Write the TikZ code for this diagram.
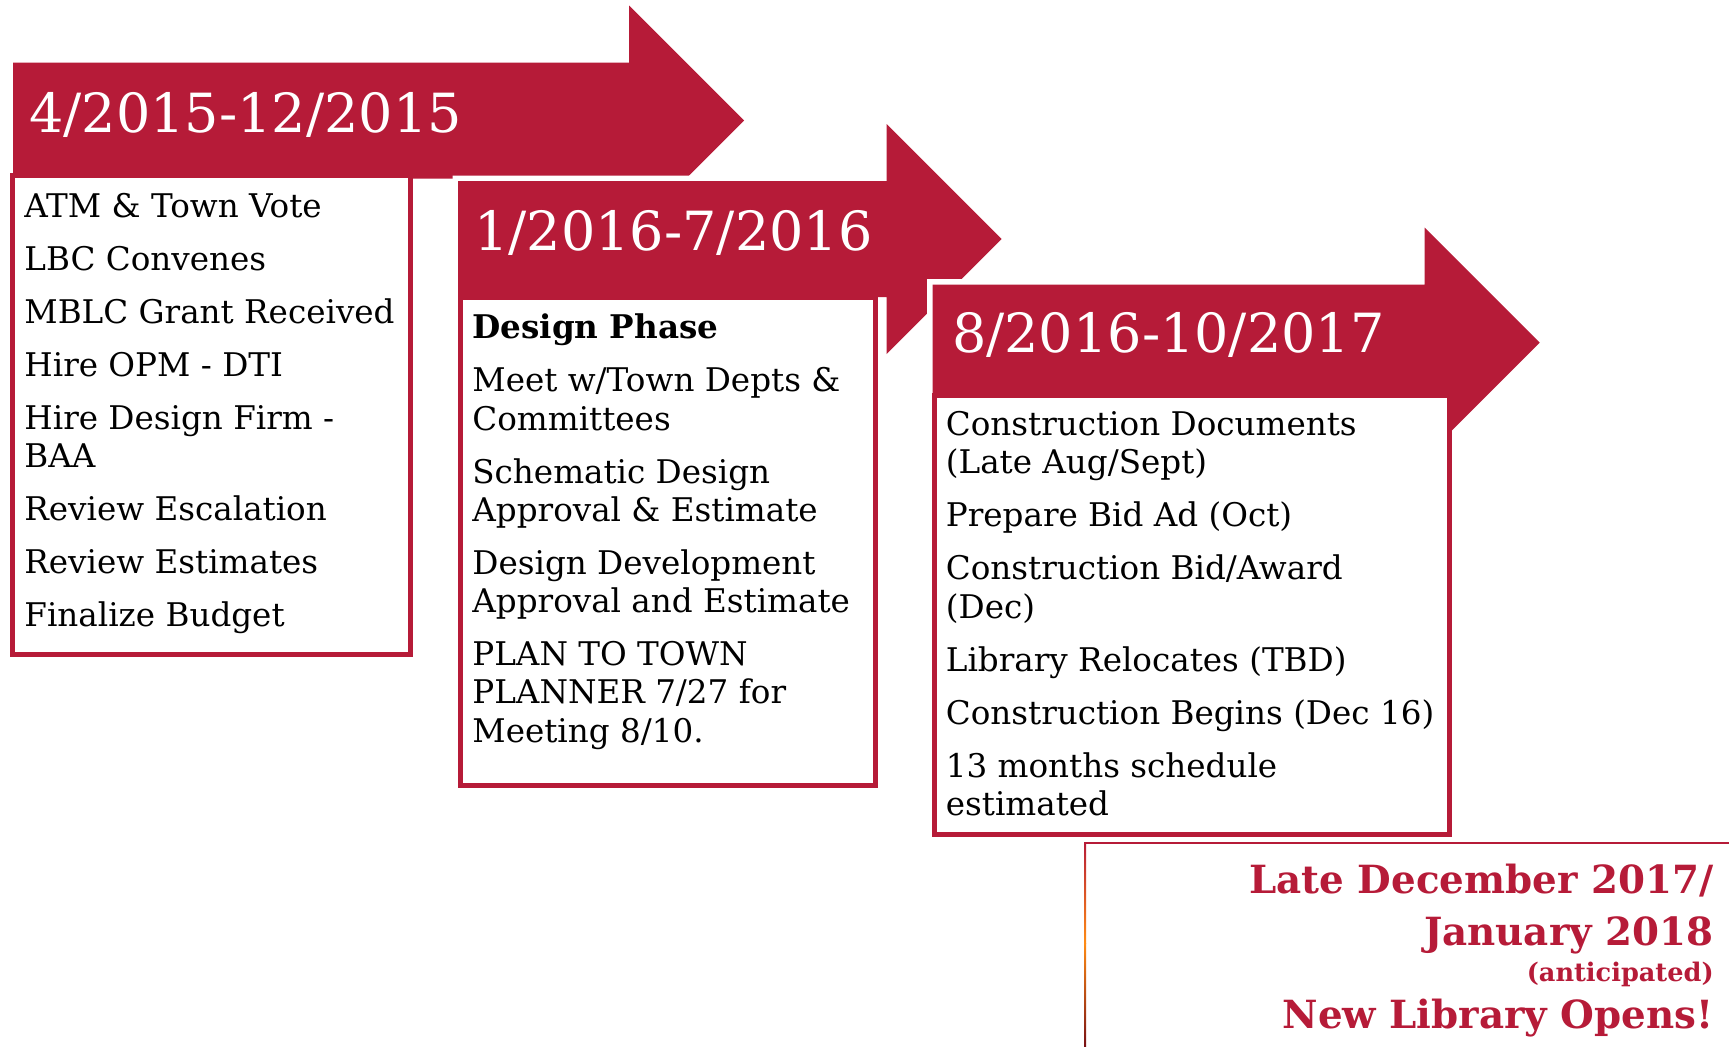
\documentclass[tikz,border=0pt]{standalone}
\usepackage{fontspec}
\setmainfont{DejaVu Serif}
\definecolor{crimson}{RGB}{182,27,56}
\definecolor{flame}{RGB}{255,140,20}
\definecolor{ember}{RGB}{120,16,20}

\begin{document}
\begin{tikzpicture}[x=0.5pt, y=-0.5pt,
    phasearrow/.style={fill=crimson, preaction={draw=white, line width=5.5pt}},
    phasebox/.style={draw=crimson, line width=2.5pt, fill=white},
    datelabel/.style={text=white, inner sep=0pt, anchor=base west, font=\fontsize{27}{32}\selectfont},
    tasklist/.style={align=left, inner sep=0pt, anchor=north west, font=\fontsize{16.3}{19.15}\selectfont},
    milestone/.style={text=crimson, inner sep=0pt, anchor=base east, font=\bfseries\fontsize{19.4}{23}\selectfont}]
  % ==== Parameters ====
  \def\BODY{58}    % half height of an arrow shaft
  \def\HEAD{115}   % half height (and length) of an arrow head
  \def\GAP{7.35pt} % extra space between two tasks
  \def\TOP{26.8}   % strut height above the first baseline

  \useasboundingbox (0,0) rectangle (1729,1046);

  % Arrows and their boxes: shaft left, head start, centre line / box corners
  \foreach \l/\n/\c/\bl/\bt/\br/\bb in {13/629/120.5/12.5/175.5/410.5/654.5,
      458/886.7/239/460.5/297.5/875.5/785.5,
      932.7/1424.7/342.7/934.5/395.5/1449.5/834.5}{
      \fill[phasearrow] (\l,\c-\BODY) -- (\n,\c-\BODY) -- (\n,\c-\HEAD) -- (\n+\HEAD,\c)
        -- (\n,\c+\HEAD) -- (\n,\c+\BODY) -- (\l,\c+\BODY) -- cycle;
      \draw[phasebox] (\bl,\bt) rectangle (\br,\bb);
    }

  % Date ranges
  \node[datelabel] (d1) at (29,132) {4/2015-12/2015};
  \node[datelabel] (d2) at (474,250) {1/2016-7/2016};
  \node[datelabel] (d3) at (951.7,352) {8/2016-10/2017};

  % Tasks
  \node[tasklist] (t1) at (24,216.7-\TOP) {\strut ATM \& Town Vote\\[\GAP]
    LBC Convenes\\[\GAP] MBLC Grant Received\\[\GAP] Hire OPM - DTI\\[\GAP]
    Hire Design Firm -\\ BAA\\[\GAP] Review Escalation\\[\GAP]
    Review Estimates\\[\GAP] Finalize Budget};
  \node[tasklist] (t2) at (472,338.3-\TOP) {\strut\textbf{Design Phase}\\[\GAP]
    Meet w/Town Depts \&\\ Committees\\[\GAP] Schematic Design\\
    Approval \& Estimate\\[\GAP] Design Development\\ Approval and Estimate\\[\GAP]
    PLAN TO TOWN\\ PLANNER 7/27 for\\ Meeting 8/10.};
  \node[tasklist] (t3) at (945.5,435-\TOP) {\strut Construction Documents\\
    (Late Aug/Sept)\\[\GAP] Prepare Bid Ad (Oct)\\[\GAP] Construction Bid/Award\\
    (Dec)\\[\GAP] Library Relocates (TBD)\\[\GAP] Construction Begins (Dec 16)\\[\GAP]
    13 months schedule\\ estimated};

  % Opening box
  \draw[crimson, line width=1pt] (1085,842.5) -- (1729,842.5);
  \shade[top color=crimson, bottom color=flame] (1084,842) rectangle (1086,943);
  \shade[top color=flame, middle color=red, bottom color=ember] (1084,943) rectangle (1086,1046);
  \node[milestone] (m1) at (1714,893.3) {Late December 2017/};
  \node[milestone] (m2) at (1714,945) {January 2018};
  \node[milestone, font=\bfseries\fontsize{12.8}{15}\selectfont] (m3) at (1714,981.7) {(anticipated)};
  \node[milestone] (m4) at (1714,1028.3) {New Library Opens!};
\end{tikzpicture}
\end{document}
